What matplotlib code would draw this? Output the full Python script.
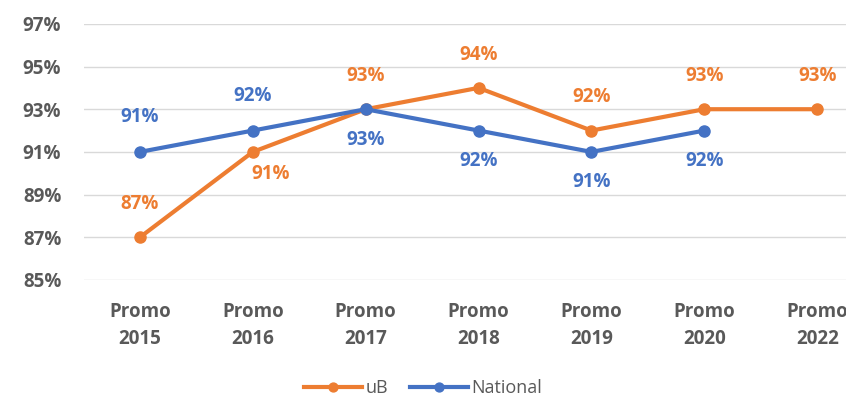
import numpy as np
import matplotlib
matplotlib.use("Agg")
import matplotlib.pyplot as plt

plt.rcParams['font.family'] = ['Open Sans', 'DejaVu Sans']

# données
categories = ["Promo\n2015", "Promo\n2016", "Promo\n2017", "Promo\n2018",
              "Promo\n2019", "Promo\n2020", "Promo\n2022"]
ub = [87, 91, 93, 94, 92, 93, 93]
national = [91, 92, 93, 92, 91, 92]
yticks = [85, 87, 89, 91, 93, 95, 97]

# position des étiquettes (décalage en points)
ub_offsets = [(0, 24), (13, -16), (0, 24), (0, 24), (0, 24), (0, 24), (0, 24)]
nat_offsets = [(0, 25), (0, 25), (0, -22), (0, -22), (0, -22), (0, -22)]

orange = "#ED7D31"
blue = "#4472C4"
grey = "#595959"

fig = plt.figure(figsize=(8.46, 4.04), dpi=100)
ax = fig.add_axes([0.0987, 0.307, 0.934, 0.634])

x = np.arange(len(categories))
ax.plot(x, ub, color=orange, lw=3, marker="o", ms=8, label="uB", zorder=3)
ax.plot(x[:len(national)], national, color=blue, lw=3, marker="o", ms=8,
        label="National", zorder=3)

for xi, v, off in zip(x, ub, ub_offsets):
    ax.annotate(f"{v}%", (xi, v), xytext=off, textcoords="offset points",
                ha="center", va="center", color=orange, fontsize=13.5,
                fontweight="bold")
for xi, v, off in zip(x, national, nat_offsets):
    ax.annotate(f"{v}%", (xi, v), xytext=off, textcoords="offset points",
                ha="center", va="center", color=blue, fontsize=13.5,
                fontweight="bold")

ax.set_xlim(-0.5, len(categories) - 0.5)
ax.set_ylim(85, 97)
ax.set_yticks(yticks)
ax.set_yticklabels([f"{t}%" for t in yticks], fontsize=13.5, fontweight="bold")
ax.set_xticks(x)
ax.set_xticklabels(categories, fontsize=13.5, fontweight="bold", linespacing=1.45)
ax.grid(axis="y", color="#D9D9D9", lw=1)
ax.set_axisbelow(True)
for s in ax.spines.values():
    s.set_visible(False)
ax.tick_params(length=0, colors=grey)
ax.tick_params(axis="y", pad=16)
ax.tick_params(axis="x", pad=16)

fig.legend(loc="center", bbox_to_anchor=(0.5, 0.04), ncol=2, frameon=False,
           prop={"size": 13}, labelcolor=grey, handlelength=3.2,
           columnspacing=1.2, handletextpad=0.2, markerscale=0.8)

fig.savefig("out.png", dpi=100)
